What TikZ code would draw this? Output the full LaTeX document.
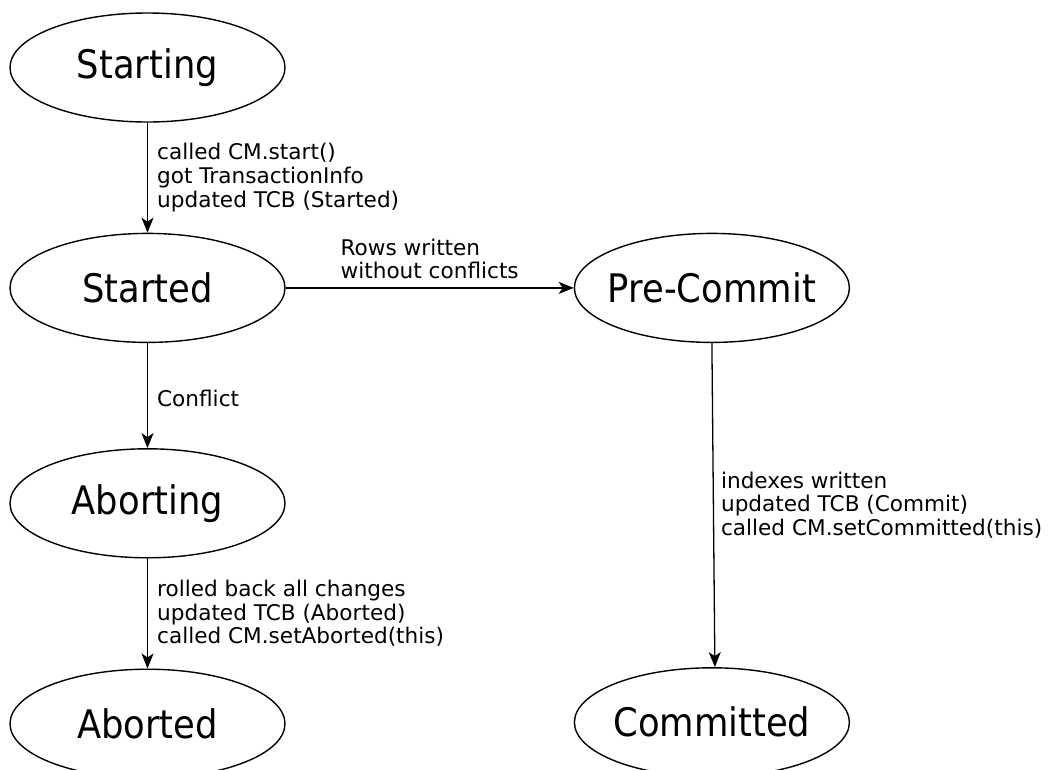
\documentclass[tikz,border=0pt]{standalone}
\usepackage{fontspec}
\setmainfont{DejaVu Sans}
\newfontfamily\statefont[FakeStretch=0.9]{DejaVu Sans}
\usetikzlibrary{arrows.meta, positioning, shapes.geometric}

\begin{document}
\begin{tikzpicture}[
  x=1pt, y=1pt,
  state/.style={draw, ellipse, line width=1.4pt, minimum width=275pt, minimum height=109pt, inner xsep=-40pt, inner ysep=0pt, font=\statefont\fontsize{39.3}{44}\selectfont},
  note/.style={align=left, inner sep=0pt, font=\fontsize{21.6}{23.7}\selectfont},
  trans/.style={-{Stealth[length=15pt, width=12pt, inset=4pt]}, line width=1.3pt}
]
\useasboundingbox (0,0) rectangle (1053,-769);

% States
\node[state] (starting) at (147.5,-67.5) {Starting};
\node[state, below=110pt of starting] (started) {Started};
\node[state, below=105pt of started] (aborting) {Aborting};
\node[state, below=110pt of aborting] (aborted) {Aborted};
\node[state, right=288pt of started] (precommit) {Pre-Commit};
\node[state, below=324pt of precommit] (committed) {Committed};

% Transitions
\draw[trans] (starting) -- node[note, right=9pt] {called CM.start()\\got TransactionInfo\\updated TCB (Started)} (started);
\draw[trans] (started) -- node[note, above=8pt] {Rows written\\without conflicts} (precommit);
\draw[trans] (started) -- node[note, right=9pt, yshift=-3pt] {Conflict} (aborting);
\draw[trans] (aborting) -- node[note, right=9pt] {rolled back all changes\\updated TCB (Aborted)\\called CM.setAborted(this)} (aborted);
\draw[trans] (precommit.south) -- node[note, right=7pt] {indexes written\\updated TCB (Commit)\\called CM.setCommitted(this)} ([xshift=3pt]committed.north);

\end{tikzpicture}
\end{document}
